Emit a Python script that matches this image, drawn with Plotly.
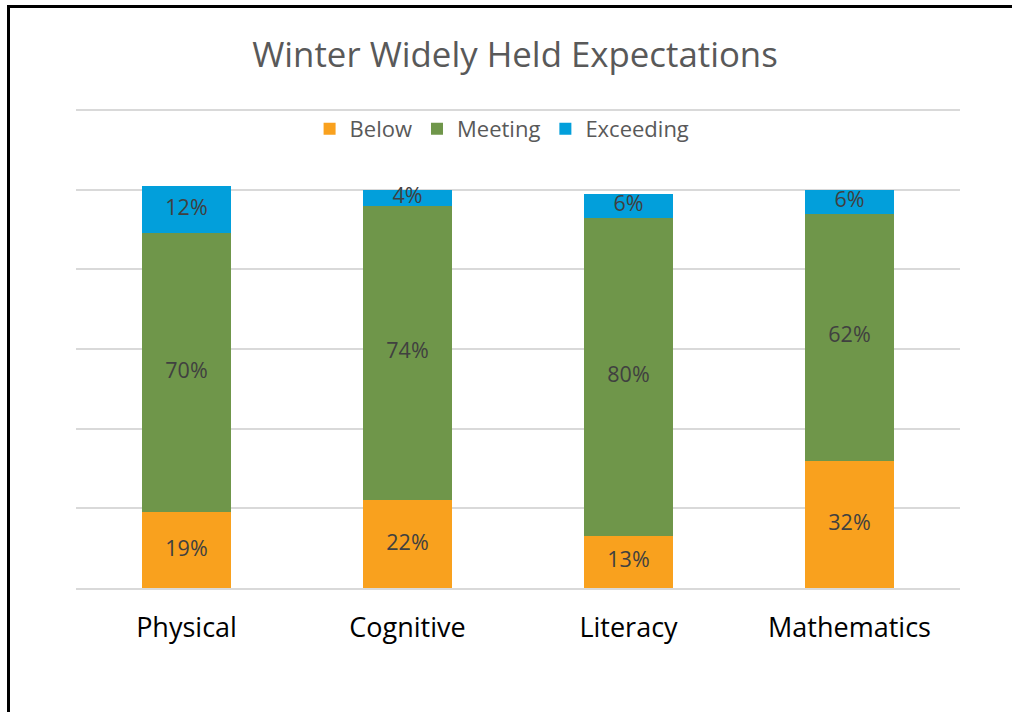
import plotly.graph_objects as go

categories = ["Physical", "Cognitive", "Literacy", "Mathematics"]
below = [19, 22, 13, 32]
meeting = [70, 74, 80, 62]
exceeding = [12, 4, 6, 6]
series_names = ["Below", "Meeting", "Exceeding"]
colors = ["#F9A11E", "#6F964A", "#029FDB"]
title_text = "Winter Widely Held Expectations"

series = [below, meeting, exceeding]

fig = go.Figure()
for name, vals, col in zip(series_names, series, colors):
    fig.add_trace(go.Bar(
        x=categories, y=vals, name=name,
        marker=dict(color=col, line=dict(width=0)),
        hoverinfo="skip",
    ))

# data labels at segment centres
base = [0] * len(categories)
for vals in series:
    mids = [b + v / 2 for b, v in zip(base, vals)]
    fig.add_trace(go.Scatter(
        x=categories, y=mids, mode="text",
        text=[f"{v}%" for v in vals],
        textfont=dict(family="Open Sans", size=21.5, color="#404040"),
        showlegend=False, hoverinfo="skip", cliponaxis=False,
    ))
    base = [b + v for b, v in zip(base, vals)]

fig.update_layout(
    width=1012, height=712,
    barmode="stack", bargap=0.6,
    paper_bgcolor="white", plot_bgcolor="white",
    margin=dict(l=76, r=52, t=102, b=124),
    font=dict(family="Open Sans", color="#595959"),
    title=dict(text=title_text, x=515 / 1012, xanchor="center", y=1 - 55 / 712,
               yanchor="middle", font=dict(size=34.8, color="#595959")),
    legend=dict(orientation="h", x=0.482, xanchor="center", y=(588 - 129) / 486,
                yanchor="middle",
                font=dict(size=22, color="#595959"), traceorder="normal",
                bgcolor="rgba(0,0,0,0)"),
    showlegend=True,
)
fig.update_yaxes(range=[0, 122], tickvals=[0, 20, 40, 60, 80, 100, 120],
                 showgrid=True, gridcolor="#D9D9D9",
                 gridwidth=2, showticklabels=False, zeroline=False, showline=False)
fig.update_xaxes(showgrid=False, showline=True, linecolor="#D9D9D9", linewidth=2,
                 tickfont=dict(size=27, color="#000000"), ticks="",
                 ticklabelstandoff=15)

# outer frame (left and top edges visible, right/bottom beyond the picture)
fig.add_shape(type="rect", xref="paper", yref="paper",
              x0=(8.5 - 76) / 884, x1=(1040 - 76) / 884,
              y0=(588 - 740) / 486, y1=(588 - 6.5) / 486,
              line=dict(color="black", width=3), layer="above")

fig.write_html("out.html", config={"displayModeBar": False},
               post_script="document.body.style.margin='0';")
